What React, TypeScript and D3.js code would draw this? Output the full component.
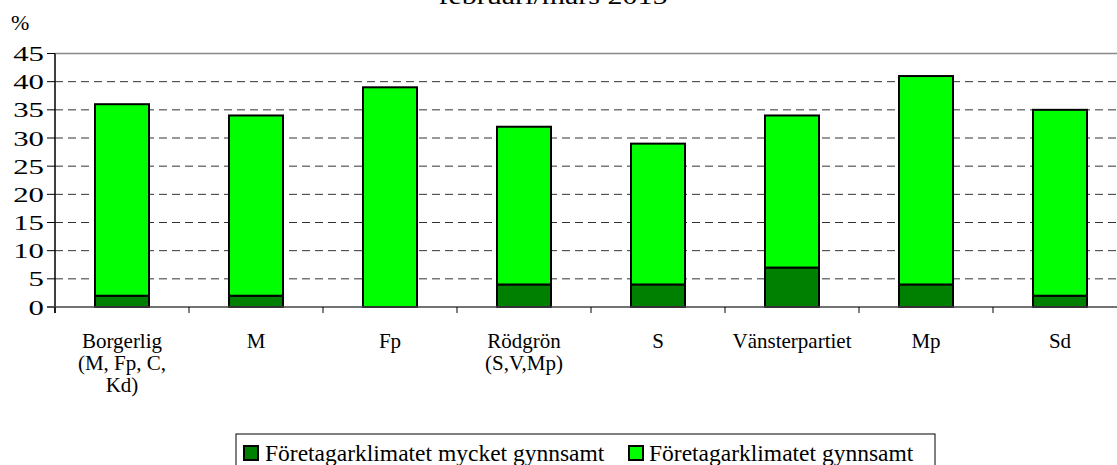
import React from 'react'
import * as d3 from 'd3'

const categories = [
  ['Borgerlig', '(M, Fp, C,', 'Kd)'],
  ['M'],
  ['Fp'],
  ['Rödgrön', '(S,V,Mp)'],
  ['S'],
  ['Vänsterpartiet'],
  ['Mp'],
  ['Sd'],
]
const veryFavourable = [2, 2, 0, 4, 4, 7, 4, 2]
const favourable = [34, 32, 39, 28, 25, 27, 37, 33]
const yTicks = [0, 5, 10, 15, 20, 25, 30, 35, 40, 45]
const seriesNames = ['Företagarklimatet mycket gynnsamt', 'Företagarklimatet gynnsamt']
const colors = ['#008000', '#00ff00']

const W = 1117
const H = 465
const font = '"Liberation Serif", "Times New Roman", serif'

export default function App() {
  const x = d3.scaleBand<number>().domain(d3.range(categories.length)).range([55, 55 + 134 * 8]).paddingInner(0).paddingOuter(0)
  const y = d3.scaleLinear().domain([0, 45]).range([307, 53.5])
  const barW = 54
  const stack = d3.stack<number>().keys(['a', 'b']).value((i, k) => (k === 'a' ? veryFavourable[i] : favourable[i]))(d3.range(categories.length))

  return (
    <div style={{ position: 'absolute', left: 0, top: 0 }}>
      <svg width={W} height={H} style={{ display: 'block', fontFamily: font }}>
        <rect width={W} height={H} fill="#fff" />
        <text x={553} y={4} fontSize={24} textAnchor="middle" textLength={229} lengthAdjust="spacingAndGlyphs">februari/mars 2015</text>
        <text x={11} y={30} fontSize={22}>%</text>

        {yTicks.map(t => (
          <g key={t}>
            {t === 45 ? (
              <line x1={55} x2={1130} y1={y(t)} y2={y(t)} stroke="#888" strokeWidth={1.5} />
            ) : t > 0 ? (
              <line x1={55} x2={1130} y1={y(t)} y2={y(t)} stroke="#333" strokeWidth={1} strokeDasharray="8,5" />
            ) : null}
            <line x1={47} x2={55} y1={y(t)} y2={y(t)} stroke="#000" />
            <text transform={`translate(44,${y(t) + 7.5}) scale(1.4,1)`} fontSize={22} textAnchor="end">{t}</text>
          </g>
        ))}

        {stack.map((s, si) =>
          s.map((d, i) => {
            const h = y(d[0]) - y(d[1])
            if (h <= 0) return null
            return (
              <rect key={`${si}-${i}`} x={(x(i) as number) + x.bandwidth() / 2 - barW / 2} y={y(d[1])} width={barW} height={h}
                fill={colors[si]} stroke="#000" strokeWidth={2} />
            )
          })
        )}

        <line x1={55} x2={55} y1={y(45)} y2={313} stroke="#000" strokeWidth={1.5} />
        <line x1={47} x2={1130} y1={307} y2={307} stroke="#444" strokeWidth={1.5} />
        {d3.range(categories.length + 1).map(i => (
          <line key={i} x1={55 + i * x.bandwidth()} x2={55 + i * x.bandwidth()} y1={307} y2={313} stroke="#000" />
        ))}

        {categories.map((lines, i) => (
          <text key={i} x={(x(i) as number) + x.bandwidth() / 2} y={348} fontSize={21} textAnchor="middle">
            {lines.map((l, j) => (
              <tspan key={j} x={(x(i) as number) + x.bandwidth() / 2} dy={j === 0 ? 0 : 22}>{l}</tspan>
            ))}
          </text>
        ))}

        <g>
          <rect x={236} y={434} width={699} height={40} fill="#fff" stroke="#000" strokeWidth={1} />
          <rect x={244} y={446} width={14} height={14} fill={colors[0]} stroke="#000" strokeWidth={2} />
          <text x={265} y={461} fontSize={23.5}>{seriesNames[0]}</text>
          <rect x={629} y={446} width={14} height={14} fill={colors[1]} stroke="#000" strokeWidth={2} />
          <text x={649} y={461} fontSize={23.5}>{seriesNames[1]}</text>
        </g>
      </svg>
    </div>
  )
}
